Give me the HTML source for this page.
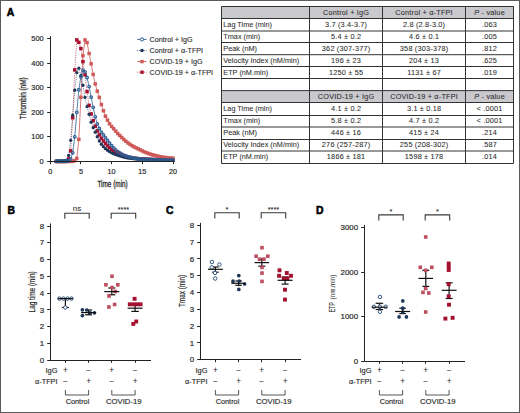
<!DOCTYPE html>
<html><head><meta charset="utf-8"><title>Figure</title>
<style>html,body{margin:0;padding:0;background:#fff;}body{width:520px;height:413px;overflow:hidden;font-family:"Liberation Sans", sans-serif;}svg{display:block;}</style>
</head><body>
<svg width="520" height="413" viewBox="0 0 520 413" font-family='"Liberation Sans", sans-serif'>
<rect x="0" y="0" width="520" height="413" fill="#fff"/>
<style>text{stroke:currentColor;stroke-width:0.06px;paint-order:stroke;}</style>
<text x="6.80" y="15.50" font-size="10.4" text-anchor="start" fill="#000" color="#000" font-weight="bold" style="stroke-width:0.55px">A</text>
<polyline points="56.34,161.40 58.39,161.40 60.43,161.40 62.48,161.40 64.53,161.40 66.57,161.40 68.62,158.95 70.67,150.83 72.71,117.76 74.76,69.87 76.81,39.93 78.85,42.38 80.90,48.55 82.95,61.70 84.99,74.77 87.04,91.56 89.09,105.37 91.13,113.97 93.18,120.65 95.23,126.24 97.27,130.93 99.32,134.85 101.37,138.20 103.41,141.04 105.46,143.56 107.51,145.83 109.55,147.74 111.60,149.26 113.65,150.58 115.69,151.74 117.74,152.81 119.79,153.86 121.83,154.88 123.88,155.80 125.93,156.55 127.97,157.07 130.02,157.47 132.07,157.82 134.11,158.14 136.16,158.41 138.21,158.63 140.25,158.81 142.30,158.95 144.35,159.06 146.39,159.16 148.44,159.27 150.49,159.36 152.53,159.45 154.58,159.54 156.63,159.61 158.67,159.68 160.72,159.75 162.77,159.80 164.81,159.84 166.86,159.88 168.91,159.91 170.95,159.92 173.00,159.93" fill="none" stroke="#a8102e" stroke-width="0.8" stroke-dasharray="0.7 1.1"/>
<polyline points="56.34,161.40 58.39,161.40 60.43,161.40 62.48,161.40 64.53,161.40 66.57,161.40 68.62,161.40 70.67,161.40 72.71,161.40 74.76,160.66 76.81,158.45 78.85,139.34 80.90,97.35 82.95,55.69 84.99,39.96 87.04,42.57 89.09,53.48 91.13,63.80 93.18,74.42 95.23,83.93 97.27,91.14 99.32,97.40 101.37,104.53 103.41,110.76 105.46,116.17 107.51,120.12 109.55,123.81 111.60,126.45 113.65,128.70 115.69,131.15 117.74,133.51 119.79,135.56 121.83,137.54 123.88,139.51 125.93,141.33 127.97,142.93 130.02,144.39 132.07,145.72 134.11,146.90 136.16,147.89 138.21,148.86 140.25,149.88 142.30,150.92 144.35,151.88 146.39,152.72 148.44,153.47 150.49,154.16 152.53,154.79 154.58,155.36 156.63,155.86 158.67,156.33 160.72,156.76 162.77,157.13 164.81,157.45 166.86,157.70 168.91,157.93 170.95,158.11 173.00,158.24" fill="none" stroke="#cf5858" stroke-width="0.8"/>
<polyline points="56.34,161.40 58.39,161.40 60.43,161.40 62.48,161.40 64.53,161.40 66.57,160.17 68.62,155.51 70.67,140.28 72.71,115.04 74.76,90.23 76.81,72.56 78.85,68.15 80.90,75.51 82.95,85.27 84.99,97.32 87.04,106.71 89.09,114.33 91.13,122.18 93.18,127.66 95.23,132.22 97.27,136.76 99.32,140.98 101.37,144.26 103.41,146.70 105.46,148.64 107.51,150.26 109.55,151.66 111.60,152.81 113.65,153.75 115.69,154.56 117.74,155.27 119.79,155.94 121.83,156.59 123.88,157.18 125.93,157.67 127.97,158.02 130.02,158.30 132.07,158.54 134.11,158.74 136.16,158.92 138.21,159.08 140.25,159.22 142.30,159.35 144.35,159.48 146.39,159.60 148.44,159.71 150.49,159.80 152.53,159.87 154.58,159.93 156.63,159.97 158.67,160.01 160.72,160.05 162.77,160.08 164.81,160.11 166.86,160.14 168.91,160.16 170.95,160.17 173.00,160.17" fill="none" stroke="#1d3659" stroke-width="0.8" stroke-dasharray="0.7 1.1"/>
<polyline points="56.34,161.40 58.39,161.39 60.43,161.36 62.48,161.31 64.53,161.22 66.57,161.09 68.62,160.91 70.67,158.94 72.71,152.82 74.76,136.86 76.81,112.30 78.85,89.76 80.90,76.74 82.95,70.14 84.99,71.95 87.04,77.51 89.09,86.57 91.13,97.15 93.18,107.33 95.23,116.84 97.27,123.81 99.32,128.54 101.37,132.11 103.41,134.94 105.46,137.60 107.51,140.43 109.55,143.20 111.60,145.69 113.65,147.93 115.69,149.95 117.74,151.58 119.79,152.90 121.83,154.08 123.88,155.10 125.93,155.95 127.97,156.61 130.02,157.17 132.07,157.68 134.11,158.12 136.16,158.49 138.21,158.78 140.25,158.98 142.30,159.13 144.35,159.25 146.39,159.36 148.44,159.45 150.49,159.54 152.53,159.61 154.58,159.68 156.63,159.75 158.67,159.82 160.72,159.89 162.77,159.95 164.81,160.00 166.86,160.06 168.91,160.10 170.95,160.14 173.00,160.17" fill="none" stroke="#2f5f94" stroke-width="0.8"/>
<rect x="54.59" y="159.65" width="3.50" height="3.50" fill="#a8102e"/>
<rect x="56.64" y="159.65" width="3.50" height="3.50" fill="#a8102e"/>
<rect x="58.68" y="159.65" width="3.50" height="3.50" fill="#a8102e"/>
<rect x="60.73" y="159.65" width="3.50" height="3.50" fill="#a8102e"/>
<rect x="62.78" y="159.65" width="3.50" height="3.50" fill="#a8102e"/>
<rect x="64.82" y="159.65" width="3.50" height="3.50" fill="#a8102e"/>
<rect x="66.87" y="157.20" width="3.50" height="3.50" fill="#a8102e"/>
<rect x="68.92" y="149.08" width="3.50" height="3.50" fill="#a8102e"/>
<rect x="70.96" y="116.01" width="3.50" height="3.50" fill="#a8102e"/>
<rect x="73.01" y="68.12" width="3.50" height="3.50" fill="#a8102e"/>
<rect x="75.06" y="38.18" width="3.50" height="3.50" fill="#a8102e"/>
<rect x="77.10" y="40.63" width="3.50" height="3.50" fill="#a8102e"/>
<rect x="79.15" y="46.80" width="3.50" height="3.50" fill="#a8102e"/>
<rect x="81.20" y="59.95" width="3.50" height="3.50" fill="#a8102e"/>
<rect x="83.24" y="73.02" width="3.50" height="3.50" fill="#a8102e"/>
<rect x="85.29" y="89.81" width="3.50" height="3.50" fill="#a8102e"/>
<rect x="87.34" y="103.62" width="3.50" height="3.50" fill="#a8102e"/>
<rect x="89.38" y="112.22" width="3.50" height="3.50" fill="#a8102e"/>
<rect x="91.43" y="118.90" width="3.50" height="3.50" fill="#a8102e"/>
<rect x="93.48" y="124.49" width="3.50" height="3.50" fill="#a8102e"/>
<rect x="95.52" y="129.18" width="3.50" height="3.50" fill="#a8102e"/>
<rect x="97.57" y="133.10" width="3.50" height="3.50" fill="#a8102e"/>
<rect x="99.62" y="136.45" width="3.50" height="3.50" fill="#a8102e"/>
<rect x="101.66" y="139.29" width="3.50" height="3.50" fill="#a8102e"/>
<rect x="103.71" y="141.81" width="3.50" height="3.50" fill="#a8102e"/>
<rect x="105.76" y="144.08" width="3.50" height="3.50" fill="#a8102e"/>
<rect x="107.80" y="145.99" width="3.50" height="3.50" fill="#a8102e"/>
<rect x="109.85" y="147.51" width="3.50" height="3.50" fill="#a8102e"/>
<rect x="111.90" y="148.83" width="3.50" height="3.50" fill="#a8102e"/>
<rect x="113.94" y="149.99" width="3.50" height="3.50" fill="#a8102e"/>
<rect x="115.99" y="151.06" width="3.50" height="3.50" fill="#a8102e"/>
<rect x="118.04" y="152.11" width="3.50" height="3.50" fill="#a8102e"/>
<rect x="120.08" y="153.13" width="3.50" height="3.50" fill="#a8102e"/>
<rect x="122.13" y="154.05" width="3.50" height="3.50" fill="#a8102e"/>
<rect x="124.18" y="154.80" width="3.50" height="3.50" fill="#a8102e"/>
<rect x="126.22" y="155.32" width="3.50" height="3.50" fill="#a8102e"/>
<rect x="128.27" y="155.72" width="3.50" height="3.50" fill="#a8102e"/>
<rect x="130.32" y="156.07" width="3.50" height="3.50" fill="#a8102e"/>
<rect x="132.36" y="156.39" width="3.50" height="3.50" fill="#a8102e"/>
<rect x="134.41" y="156.66" width="3.50" height="3.50" fill="#a8102e"/>
<rect x="136.46" y="156.88" width="3.50" height="3.50" fill="#a8102e"/>
<rect x="138.50" y="157.06" width="3.50" height="3.50" fill="#a8102e"/>
<rect x="140.55" y="157.20" width="3.50" height="3.50" fill="#a8102e"/>
<rect x="142.60" y="157.31" width="3.50" height="3.50" fill="#a8102e"/>
<rect x="144.64" y="157.41" width="3.50" height="3.50" fill="#a8102e"/>
<rect x="146.69" y="157.52" width="3.50" height="3.50" fill="#a8102e"/>
<rect x="148.74" y="157.61" width="3.50" height="3.50" fill="#a8102e"/>
<rect x="150.78" y="157.70" width="3.50" height="3.50" fill="#a8102e"/>
<rect x="152.83" y="157.79" width="3.50" height="3.50" fill="#a8102e"/>
<rect x="154.88" y="157.86" width="3.50" height="3.50" fill="#a8102e"/>
<rect x="156.92" y="157.93" width="3.50" height="3.50" fill="#a8102e"/>
<rect x="158.97" y="158.00" width="3.50" height="3.50" fill="#a8102e"/>
<rect x="161.02" y="158.05" width="3.50" height="3.50" fill="#a8102e"/>
<rect x="163.06" y="158.09" width="3.50" height="3.50" fill="#a8102e"/>
<rect x="165.11" y="158.13" width="3.50" height="3.50" fill="#a8102e"/>
<rect x="167.16" y="158.16" width="3.50" height="3.50" fill="#a8102e"/>
<rect x="169.20" y="158.17" width="3.50" height="3.50" fill="#a8102e"/>
<rect x="171.25" y="158.18" width="3.50" height="3.50" fill="#a8102e"/>
<rect x="54.59" y="159.65" width="3.50" height="3.50" fill="#cf5858"/>
<rect x="56.64" y="159.65" width="3.50" height="3.50" fill="#cf5858"/>
<rect x="58.68" y="159.65" width="3.50" height="3.50" fill="#cf5858"/>
<rect x="60.73" y="159.65" width="3.50" height="3.50" fill="#cf5858"/>
<rect x="62.78" y="159.65" width="3.50" height="3.50" fill="#cf5858"/>
<rect x="64.82" y="159.65" width="3.50" height="3.50" fill="#cf5858"/>
<rect x="66.87" y="159.65" width="3.50" height="3.50" fill="#cf5858"/>
<rect x="68.92" y="159.65" width="3.50" height="3.50" fill="#cf5858"/>
<rect x="70.96" y="159.65" width="3.50" height="3.50" fill="#cf5858"/>
<rect x="73.01" y="158.91" width="3.50" height="3.50" fill="#cf5858"/>
<rect x="75.06" y="156.70" width="3.50" height="3.50" fill="#cf5858"/>
<rect x="77.10" y="137.59" width="3.50" height="3.50" fill="#cf5858"/>
<rect x="79.15" y="95.60" width="3.50" height="3.50" fill="#cf5858"/>
<rect x="81.20" y="53.94" width="3.50" height="3.50" fill="#cf5858"/>
<rect x="83.24" y="38.21" width="3.50" height="3.50" fill="#cf5858"/>
<rect x="85.29" y="40.82" width="3.50" height="3.50" fill="#cf5858"/>
<rect x="87.34" y="51.73" width="3.50" height="3.50" fill="#cf5858"/>
<rect x="89.38" y="62.05" width="3.50" height="3.50" fill="#cf5858"/>
<rect x="91.43" y="72.67" width="3.50" height="3.50" fill="#cf5858"/>
<rect x="93.48" y="82.18" width="3.50" height="3.50" fill="#cf5858"/>
<rect x="95.52" y="89.39" width="3.50" height="3.50" fill="#cf5858"/>
<rect x="97.57" y="95.65" width="3.50" height="3.50" fill="#cf5858"/>
<rect x="99.62" y="102.78" width="3.50" height="3.50" fill="#cf5858"/>
<rect x="101.66" y="109.01" width="3.50" height="3.50" fill="#cf5858"/>
<rect x="103.71" y="114.42" width="3.50" height="3.50" fill="#cf5858"/>
<rect x="105.76" y="118.37" width="3.50" height="3.50" fill="#cf5858"/>
<rect x="107.80" y="122.06" width="3.50" height="3.50" fill="#cf5858"/>
<rect x="109.85" y="124.70" width="3.50" height="3.50" fill="#cf5858"/>
<rect x="111.90" y="126.95" width="3.50" height="3.50" fill="#cf5858"/>
<rect x="113.94" y="129.40" width="3.50" height="3.50" fill="#cf5858"/>
<rect x="115.99" y="131.76" width="3.50" height="3.50" fill="#cf5858"/>
<rect x="118.04" y="133.81" width="3.50" height="3.50" fill="#cf5858"/>
<rect x="120.08" y="135.79" width="3.50" height="3.50" fill="#cf5858"/>
<rect x="122.13" y="137.76" width="3.50" height="3.50" fill="#cf5858"/>
<rect x="124.18" y="139.58" width="3.50" height="3.50" fill="#cf5858"/>
<rect x="126.22" y="141.18" width="3.50" height="3.50" fill="#cf5858"/>
<rect x="128.27" y="142.64" width="3.50" height="3.50" fill="#cf5858"/>
<rect x="130.32" y="143.97" width="3.50" height="3.50" fill="#cf5858"/>
<rect x="132.36" y="145.15" width="3.50" height="3.50" fill="#cf5858"/>
<rect x="134.41" y="146.14" width="3.50" height="3.50" fill="#cf5858"/>
<rect x="136.46" y="147.11" width="3.50" height="3.50" fill="#cf5858"/>
<rect x="138.50" y="148.13" width="3.50" height="3.50" fill="#cf5858"/>
<rect x="140.55" y="149.17" width="3.50" height="3.50" fill="#cf5858"/>
<rect x="142.60" y="150.13" width="3.50" height="3.50" fill="#cf5858"/>
<rect x="144.64" y="150.97" width="3.50" height="3.50" fill="#cf5858"/>
<rect x="146.69" y="151.72" width="3.50" height="3.50" fill="#cf5858"/>
<rect x="148.74" y="152.41" width="3.50" height="3.50" fill="#cf5858"/>
<rect x="150.78" y="153.04" width="3.50" height="3.50" fill="#cf5858"/>
<rect x="152.83" y="153.61" width="3.50" height="3.50" fill="#cf5858"/>
<rect x="154.88" y="154.11" width="3.50" height="3.50" fill="#cf5858"/>
<rect x="156.92" y="154.58" width="3.50" height="3.50" fill="#cf5858"/>
<rect x="158.97" y="155.01" width="3.50" height="3.50" fill="#cf5858"/>
<rect x="161.02" y="155.38" width="3.50" height="3.50" fill="#cf5858"/>
<rect x="163.06" y="155.70" width="3.50" height="3.50" fill="#cf5858"/>
<rect x="165.11" y="155.95" width="3.50" height="3.50" fill="#cf5858"/>
<rect x="167.16" y="156.18" width="3.50" height="3.50" fill="#cf5858"/>
<rect x="169.20" y="156.36" width="3.50" height="3.50" fill="#cf5858"/>
<rect x="171.25" y="156.49" width="3.50" height="3.50" fill="#cf5858"/>
<circle cx="56.34" cy="161.40" r="1.65" fill="#1d3659"/>
<circle cx="58.39" cy="161.40" r="1.65" fill="#1d3659"/>
<circle cx="60.43" cy="161.40" r="1.65" fill="#1d3659"/>
<circle cx="62.48" cy="161.40" r="1.65" fill="#1d3659"/>
<circle cx="64.53" cy="161.40" r="1.65" fill="#1d3659"/>
<circle cx="66.57" cy="160.17" r="1.65" fill="#1d3659"/>
<circle cx="68.62" cy="155.51" r="1.65" fill="#1d3659"/>
<circle cx="70.67" cy="140.28" r="1.65" fill="#1d3659"/>
<circle cx="72.71" cy="115.04" r="1.65" fill="#1d3659"/>
<circle cx="74.76" cy="90.23" r="1.65" fill="#1d3659"/>
<circle cx="76.81" cy="72.56" r="1.65" fill="#1d3659"/>
<circle cx="78.85" cy="68.15" r="1.65" fill="#1d3659"/>
<circle cx="80.90" cy="75.51" r="1.65" fill="#1d3659"/>
<circle cx="82.95" cy="85.27" r="1.65" fill="#1d3659"/>
<circle cx="84.99" cy="97.32" r="1.65" fill="#1d3659"/>
<circle cx="87.04" cy="106.71" r="1.65" fill="#1d3659"/>
<circle cx="89.09" cy="114.33" r="1.65" fill="#1d3659"/>
<circle cx="91.13" cy="122.18" r="1.65" fill="#1d3659"/>
<circle cx="93.18" cy="127.66" r="1.65" fill="#1d3659"/>
<circle cx="95.23" cy="132.22" r="1.65" fill="#1d3659"/>
<circle cx="97.27" cy="136.76" r="1.65" fill="#1d3659"/>
<circle cx="99.32" cy="140.98" r="1.65" fill="#1d3659"/>
<circle cx="101.37" cy="144.26" r="1.65" fill="#1d3659"/>
<circle cx="103.41" cy="146.70" r="1.65" fill="#1d3659"/>
<circle cx="105.46" cy="148.64" r="1.65" fill="#1d3659"/>
<circle cx="107.51" cy="150.26" r="1.65" fill="#1d3659"/>
<circle cx="109.55" cy="151.66" r="1.65" fill="#1d3659"/>
<circle cx="111.60" cy="152.81" r="1.65" fill="#1d3659"/>
<circle cx="113.65" cy="153.75" r="1.65" fill="#1d3659"/>
<circle cx="115.69" cy="154.56" r="1.65" fill="#1d3659"/>
<circle cx="117.74" cy="155.27" r="1.65" fill="#1d3659"/>
<circle cx="119.79" cy="155.94" r="1.65" fill="#1d3659"/>
<circle cx="121.83" cy="156.59" r="1.65" fill="#1d3659"/>
<circle cx="123.88" cy="157.18" r="1.65" fill="#1d3659"/>
<circle cx="125.93" cy="157.67" r="1.65" fill="#1d3659"/>
<circle cx="127.97" cy="158.02" r="1.65" fill="#1d3659"/>
<circle cx="130.02" cy="158.30" r="1.65" fill="#1d3659"/>
<circle cx="132.07" cy="158.54" r="1.65" fill="#1d3659"/>
<circle cx="134.11" cy="158.74" r="1.65" fill="#1d3659"/>
<circle cx="136.16" cy="158.92" r="1.65" fill="#1d3659"/>
<circle cx="138.21" cy="159.08" r="1.65" fill="#1d3659"/>
<circle cx="140.25" cy="159.22" r="1.65" fill="#1d3659"/>
<circle cx="142.30" cy="159.35" r="1.65" fill="#1d3659"/>
<circle cx="144.35" cy="159.48" r="1.65" fill="#1d3659"/>
<circle cx="146.39" cy="159.60" r="1.65" fill="#1d3659"/>
<circle cx="148.44" cy="159.71" r="1.65" fill="#1d3659"/>
<circle cx="150.49" cy="159.80" r="1.65" fill="#1d3659"/>
<circle cx="152.53" cy="159.87" r="1.65" fill="#1d3659"/>
<circle cx="154.58" cy="159.93" r="1.65" fill="#1d3659"/>
<circle cx="156.63" cy="159.97" r="1.65" fill="#1d3659"/>
<circle cx="158.67" cy="160.01" r="1.65" fill="#1d3659"/>
<circle cx="160.72" cy="160.05" r="1.65" fill="#1d3659"/>
<circle cx="162.77" cy="160.08" r="1.65" fill="#1d3659"/>
<circle cx="164.81" cy="160.11" r="1.65" fill="#1d3659"/>
<circle cx="166.86" cy="160.14" r="1.65" fill="#1d3659"/>
<circle cx="168.91" cy="160.16" r="1.65" fill="#1d3659"/>
<circle cx="170.95" cy="160.17" r="1.65" fill="#1d3659"/>
<circle cx="173.00" cy="160.17" r="1.65" fill="#1d3659"/>
<circle cx="56.34" cy="161.40" r="1.35" fill="none" stroke="#2f5f94" stroke-width="1.15"/>
<circle cx="58.39" cy="161.39" r="1.35" fill="none" stroke="#2f5f94" stroke-width="1.15"/>
<circle cx="60.43" cy="161.36" r="1.35" fill="none" stroke="#2f5f94" stroke-width="1.15"/>
<circle cx="62.48" cy="161.31" r="1.35" fill="none" stroke="#2f5f94" stroke-width="1.15"/>
<circle cx="64.53" cy="161.22" r="1.35" fill="none" stroke="#2f5f94" stroke-width="1.15"/>
<circle cx="66.57" cy="161.09" r="1.35" fill="none" stroke="#2f5f94" stroke-width="1.15"/>
<circle cx="68.62" cy="160.91" r="1.35" fill="none" stroke="#2f5f94" stroke-width="1.15"/>
<circle cx="70.67" cy="158.94" r="1.35" fill="none" stroke="#2f5f94" stroke-width="1.15"/>
<circle cx="72.71" cy="152.82" r="1.35" fill="none" stroke="#2f5f94" stroke-width="1.15"/>
<circle cx="74.76" cy="136.86" r="1.35" fill="none" stroke="#2f5f94" stroke-width="1.15"/>
<circle cx="76.81" cy="112.30" r="1.35" fill="none" stroke="#2f5f94" stroke-width="1.15"/>
<circle cx="78.85" cy="89.76" r="1.35" fill="none" stroke="#2f5f94" stroke-width="1.15"/>
<circle cx="80.90" cy="76.74" r="1.35" fill="none" stroke="#2f5f94" stroke-width="1.15"/>
<circle cx="82.95" cy="70.14" r="1.35" fill="none" stroke="#2f5f94" stroke-width="1.15"/>
<circle cx="84.99" cy="71.95" r="1.35" fill="none" stroke="#2f5f94" stroke-width="1.15"/>
<circle cx="87.04" cy="77.51" r="1.35" fill="none" stroke="#2f5f94" stroke-width="1.15"/>
<circle cx="89.09" cy="86.57" r="1.35" fill="none" stroke="#2f5f94" stroke-width="1.15"/>
<circle cx="91.13" cy="97.15" r="1.35" fill="none" stroke="#2f5f94" stroke-width="1.15"/>
<circle cx="93.18" cy="107.33" r="1.35" fill="none" stroke="#2f5f94" stroke-width="1.15"/>
<circle cx="95.23" cy="116.84" r="1.35" fill="none" stroke="#2f5f94" stroke-width="1.15"/>
<circle cx="97.27" cy="123.81" r="1.35" fill="none" stroke="#2f5f94" stroke-width="1.15"/>
<circle cx="99.32" cy="128.54" r="1.35" fill="none" stroke="#2f5f94" stroke-width="1.15"/>
<circle cx="101.37" cy="132.11" r="1.35" fill="none" stroke="#2f5f94" stroke-width="1.15"/>
<circle cx="103.41" cy="134.94" r="1.35" fill="none" stroke="#2f5f94" stroke-width="1.15"/>
<circle cx="105.46" cy="137.60" r="1.35" fill="none" stroke="#2f5f94" stroke-width="1.15"/>
<circle cx="107.51" cy="140.43" r="1.35" fill="none" stroke="#2f5f94" stroke-width="1.15"/>
<circle cx="109.55" cy="143.20" r="1.35" fill="none" stroke="#2f5f94" stroke-width="1.15"/>
<circle cx="111.60" cy="145.69" r="1.35" fill="none" stroke="#2f5f94" stroke-width="1.15"/>
<circle cx="113.65" cy="147.93" r="1.35" fill="none" stroke="#2f5f94" stroke-width="1.15"/>
<circle cx="115.69" cy="149.95" r="1.35" fill="none" stroke="#2f5f94" stroke-width="1.15"/>
<circle cx="117.74" cy="151.58" r="1.35" fill="none" stroke="#2f5f94" stroke-width="1.15"/>
<circle cx="119.79" cy="152.90" r="1.35" fill="none" stroke="#2f5f94" stroke-width="1.15"/>
<circle cx="121.83" cy="154.08" r="1.35" fill="none" stroke="#2f5f94" stroke-width="1.15"/>
<circle cx="123.88" cy="155.10" r="1.35" fill="none" stroke="#2f5f94" stroke-width="1.15"/>
<circle cx="125.93" cy="155.95" r="1.35" fill="none" stroke="#2f5f94" stroke-width="1.15"/>
<circle cx="127.97" cy="156.61" r="1.35" fill="none" stroke="#2f5f94" stroke-width="1.15"/>
<circle cx="130.02" cy="157.17" r="1.35" fill="none" stroke="#2f5f94" stroke-width="1.15"/>
<circle cx="132.07" cy="157.68" r="1.35" fill="none" stroke="#2f5f94" stroke-width="1.15"/>
<circle cx="134.11" cy="158.12" r="1.35" fill="none" stroke="#2f5f94" stroke-width="1.15"/>
<circle cx="136.16" cy="158.49" r="1.35" fill="none" stroke="#2f5f94" stroke-width="1.15"/>
<circle cx="138.21" cy="158.78" r="1.35" fill="none" stroke="#2f5f94" stroke-width="1.15"/>
<circle cx="140.25" cy="158.98" r="1.35" fill="none" stroke="#2f5f94" stroke-width="1.15"/>
<circle cx="142.30" cy="159.13" r="1.35" fill="none" stroke="#2f5f94" stroke-width="1.15"/>
<circle cx="144.35" cy="159.25" r="1.35" fill="none" stroke="#2f5f94" stroke-width="1.15"/>
<circle cx="146.39" cy="159.36" r="1.35" fill="none" stroke="#2f5f94" stroke-width="1.15"/>
<circle cx="148.44" cy="159.45" r="1.35" fill="none" stroke="#2f5f94" stroke-width="1.15"/>
<circle cx="150.49" cy="159.54" r="1.35" fill="none" stroke="#2f5f94" stroke-width="1.15"/>
<circle cx="152.53" cy="159.61" r="1.35" fill="none" stroke="#2f5f94" stroke-width="1.15"/>
<circle cx="154.58" cy="159.68" r="1.35" fill="none" stroke="#2f5f94" stroke-width="1.15"/>
<circle cx="156.63" cy="159.75" r="1.35" fill="none" stroke="#2f5f94" stroke-width="1.15"/>
<circle cx="158.67" cy="159.82" r="1.35" fill="none" stroke="#2f5f94" stroke-width="1.15"/>
<circle cx="160.72" cy="159.89" r="1.35" fill="none" stroke="#2f5f94" stroke-width="1.15"/>
<circle cx="162.77" cy="159.95" r="1.35" fill="none" stroke="#2f5f94" stroke-width="1.15"/>
<circle cx="164.81" cy="160.00" r="1.35" fill="none" stroke="#2f5f94" stroke-width="1.15"/>
<circle cx="166.86" cy="160.06" r="1.35" fill="none" stroke="#2f5f94" stroke-width="1.15"/>
<circle cx="168.91" cy="160.10" r="1.35" fill="none" stroke="#2f5f94" stroke-width="1.15"/>
<circle cx="170.95" cy="160.14" r="1.35" fill="none" stroke="#2f5f94" stroke-width="1.15"/>
<circle cx="173.00" cy="160.17" r="1.35" fill="none" stroke="#2f5f94" stroke-width="1.15"/>
<line x1="56.6" y1="160.9" x2="67.2" y2="160.9" stroke="#24578a" stroke-width="3.4" stroke-linecap="round"/>
<line x1="50.00" y1="161.50" x2="174.20" y2="161.50" stroke="#222" stroke-width="1"/>
<line x1="50.50" y1="36.20" x2="50.50" y2="162.00" stroke="#222" stroke-width="1"/>
<line x1="50.50" y1="161.50" x2="50.50" y2="164.20" stroke="#222" stroke-width="1"/>
<text x="50.20" y="173.80" font-size="7.2" text-anchor="middle" fill="#2b2b2b" color="#2b2b2b" font-weight="normal" style="stroke-width:0.2px">0</text>
<line x1="80.50" y1="161.50" x2="80.50" y2="164.20" stroke="#222" stroke-width="1"/>
<text x="80.90" y="173.80" font-size="7.2" text-anchor="middle" fill="#2b2b2b" color="#2b2b2b" font-weight="normal" style="stroke-width:0.2px">5</text>
<line x1="111.50" y1="161.50" x2="111.50" y2="164.20" stroke="#222" stroke-width="1"/>
<text x="111.60" y="173.80" font-size="7.2" text-anchor="middle" fill="#2b2b2b" color="#2b2b2b" font-weight="normal" style="stroke-width:0.2px">10</text>
<line x1="142.50" y1="161.50" x2="142.50" y2="164.20" stroke="#222" stroke-width="1"/>
<text x="142.30" y="173.80" font-size="7.2" text-anchor="middle" fill="#2b2b2b" color="#2b2b2b" font-weight="normal" style="stroke-width:0.2px">15</text>
<line x1="173.50" y1="161.50" x2="173.50" y2="164.20" stroke="#222" stroke-width="1"/>
<text x="173.00" y="173.80" font-size="7.2" text-anchor="middle" fill="#2b2b2b" color="#2b2b2b" font-weight="normal" style="stroke-width:0.2px">20</text>
<line x1="47.20" y1="161.50" x2="50.50" y2="161.50" stroke="#222" stroke-width="1"/>
<text x="43.70" y="163.75" font-size="7.4" text-anchor="end" fill="#2b2b2b" color="#2b2b2b" font-weight="normal" style="stroke-width:0.2px">0</text>
<line x1="47.20" y1="136.50" x2="50.50" y2="136.50" stroke="#222" stroke-width="1"/>
<text x="43.70" y="139.21" font-size="7.4" text-anchor="end" fill="#2b2b2b" color="#2b2b2b" font-weight="normal" style="stroke-width:0.2px">100</text>
<line x1="47.20" y1="112.50" x2="50.50" y2="112.50" stroke="#222" stroke-width="1"/>
<text x="43.70" y="114.67" font-size="7.4" text-anchor="end" fill="#2b2b2b" color="#2b2b2b" font-weight="normal" style="stroke-width:0.2px">200</text>
<line x1="47.20" y1="87.50" x2="50.50" y2="87.50" stroke="#222" stroke-width="1"/>
<text x="43.70" y="90.13" font-size="7.4" text-anchor="end" fill="#2b2b2b" color="#2b2b2b" font-weight="normal" style="stroke-width:0.2px">300</text>
<line x1="47.20" y1="63.50" x2="50.50" y2="63.50" stroke="#222" stroke-width="1"/>
<text x="43.70" y="65.59" font-size="7.4" text-anchor="end" fill="#2b2b2b" color="#2b2b2b" font-weight="normal" style="stroke-width:0.2px">400</text>
<line x1="47.20" y1="38.50" x2="50.50" y2="38.50" stroke="#222" stroke-width="1"/>
<text x="43.70" y="41.05" font-size="7.4" text-anchor="end" fill="#2b2b2b" color="#2b2b2b" font-weight="normal" style="stroke-width:0.2px">500</text>
<text x="112.60" y="186.50" font-size="8.8" text-anchor="middle" fill="#2b2b2b" color="#2b2b2b" font-weight="normal" textLength="30.3" lengthAdjust="spacingAndGlyphs" style="stroke-width:0.3px">Time (min)</text>
<text transform="translate(25.9,98.3) rotate(-90)" x="0" y="0" font-size="8.8" text-anchor="middle" fill="#2b2b2b" color="#2b2b2b" textLength="41.7" lengthAdjust="spacingAndGlyphs" style="stroke-width:0.3px">Thrombin (nM)</text>
<line x1="137.2" y1="39.4" x2="146.6" y2="39.4" stroke="#2f5f94" stroke-width="0.9"/>
<circle cx="142" cy="39.4" r="1.65" fill="#fff" stroke="#2f5f94" stroke-width="1.0"/>
<text x="149.60" y="42.00" font-size="7.2" text-anchor="start" fill="#2b2b2b" color="#2b2b2b" font-weight="normal" style="stroke-width:0.12px">Control + IgG</text>
<line x1="137.2" y1="50.5" x2="146.6" y2="50.5" stroke="#1d3659" stroke-width="0.9" stroke-dasharray="0.7 1.1"/>
<circle cx="142" cy="50.5" r="1.8" fill="#1d3659"/>
<text x="149.60" y="53.10" font-size="7.2" text-anchor="start" fill="#2b2b2b" color="#2b2b2b" font-weight="normal" style="stroke-width:0.12px">Control + &#945;-TFPI</text>
<line x1="137.2" y1="61.6" x2="146.6" y2="61.6" stroke="#cf5858" stroke-width="0.9"/>
<rect x="140.3" y="59.9" width="3.4" height="3.4" fill="#cf5858"/>
<text x="149.60" y="64.20" font-size="7.2" text-anchor="start" fill="#2b2b2b" color="#2b2b2b" font-weight="normal" style="stroke-width:0.12px">COVID-19 + IgG</text>
<line x1="137.2" y1="72.2" x2="146.6" y2="72.2" stroke="#a8102e" stroke-width="0.9" stroke-dasharray="0.7 1.1"/>
<rect x="140.3" y="70.5" width="3.4" height="3.4" fill="#a8102e"/>
<text x="149.60" y="74.80" font-size="7.2" text-anchor="start" fill="#2b2b2b" color="#2b2b2b" font-weight="normal" style="stroke-width:0.12px">COVID-19 + &#945;-TFPI</text>
<rect x="221.5" y="6.5" width="292.0" height="12.0" fill="#c9c8cd"/>
<rect x="221.5" y="90.6" width="292.0" height="11.900000000000006" fill="#c9c8cd"/>
<line x1="221.50" y1="6.50" x2="513.50" y2="6.50" stroke="#333" stroke-width="1"/>
<line x1="221.50" y1="18.50" x2="513.50" y2="18.50" stroke="#333" stroke-width="1"/>
<line x1="221.50" y1="31.00" x2="513.50" y2="31.00" stroke="#333" stroke-width="1"/>
<line x1="221.50" y1="42.50" x2="513.50" y2="42.50" stroke="#333" stroke-width="1"/>
<line x1="221.50" y1="54.70" x2="513.50" y2="54.70" stroke="#333" stroke-width="1"/>
<line x1="221.50" y1="66.50" x2="513.50" y2="66.50" stroke="#333" stroke-width="1"/>
<line x1="221.50" y1="78.50" x2="513.50" y2="78.50" stroke="#333" stroke-width="1"/>
<line x1="221.50" y1="90.60" x2="513.50" y2="90.60" stroke="#333" stroke-width="1"/>
<line x1="221.50" y1="102.50" x2="513.50" y2="102.50" stroke="#333" stroke-width="1"/>
<line x1="221.50" y1="115.50" x2="513.50" y2="115.50" stroke="#333" stroke-width="1"/>
<line x1="221.50" y1="127.00" x2="513.50" y2="127.00" stroke="#333" stroke-width="1"/>
<line x1="221.50" y1="139.50" x2="513.50" y2="139.50" stroke="#333" stroke-width="1"/>
<line x1="221.50" y1="151.00" x2="513.50" y2="151.00" stroke="#333" stroke-width="1"/>
<line x1="221.50" y1="163.50" x2="513.50" y2="163.50" stroke="#333" stroke-width="1"/>
<line x1="221.50" y1="6.50" x2="221.50" y2="163.50" stroke="#333" stroke-width="1"/>
<line x1="309.50" y1="6.50" x2="309.50" y2="163.50" stroke="#333" stroke-width="1"/>
<line x1="382.50" y1="6.50" x2="382.50" y2="163.50" stroke="#333" stroke-width="1"/>
<line x1="465.50" y1="6.50" x2="465.50" y2="163.50" stroke="#333" stroke-width="1"/>
<line x1="513.50" y1="6.50" x2="513.50" y2="163.50" stroke="#333" stroke-width="1"/>
<text x="346.10" y="14.60" font-size="7.3" text-anchor="middle" fill="#2b2b2b" color="#2b2b2b" font-weight="normal" letter-spacing="0.2">Control + IgG</text>
<text x="424.10" y="14.60" font-size="7.3" text-anchor="middle" fill="#2b2b2b" color="#2b2b2b" font-weight="normal" letter-spacing="0.2">Control + &#945;-TFPI</text>
<text x="489.60" y="14.60" font-size="7.3" text-anchor="middle" fill="#2b2b2b" color="#2b2b2b" font-weight="normal" letter-spacing="0.2"><tspan font-style="italic">P</tspan> - value</text>
<text x="223.30" y="26.85" font-size="7.3" text-anchor="start" fill="#2b2b2b" color="#2b2b2b" font-weight="normal">Lag Time (min)</text>
<text x="346.10" y="26.85" font-size="7.3" text-anchor="middle" fill="#2b2b2b" color="#2b2b2b" font-weight="normal" letter-spacing="0.2">3.7 (3.4-3.7)</text>
<text x="424.10" y="26.85" font-size="7.3" text-anchor="middle" fill="#2b2b2b" color="#2b2b2b" font-weight="normal" letter-spacing="0.2">2.8 (2.8-3.0)</text>
<text x="489.60" y="26.85" font-size="7.3" text-anchor="middle" fill="#2b2b2b" color="#2b2b2b" font-weight="normal" letter-spacing="0.2">.063</text>
<text x="223.30" y="38.85" font-size="7.3" text-anchor="start" fill="#2b2b2b" color="#2b2b2b" font-weight="normal">Tmax (min)</text>
<text x="346.10" y="38.85" font-size="7.3" text-anchor="middle" fill="#2b2b2b" color="#2b2b2b" font-weight="normal" letter-spacing="0.2">5.4 &#177; 0.2</text>
<text x="424.10" y="38.85" font-size="7.3" text-anchor="middle" fill="#2b2b2b" color="#2b2b2b" font-weight="normal" letter-spacing="0.2">4.6 &#177; 0.1</text>
<text x="489.60" y="38.85" font-size="7.3" text-anchor="middle" fill="#2b2b2b" color="#2b2b2b" font-weight="normal" letter-spacing="0.2">.005</text>
<text x="223.30" y="50.70" font-size="7.3" text-anchor="start" fill="#2b2b2b" color="#2b2b2b" font-weight="normal">Peak (nM)</text>
<text x="346.10" y="50.70" font-size="7.3" text-anchor="middle" fill="#2b2b2b" color="#2b2b2b" font-weight="normal" letter-spacing="0.2">362 (307-377)</text>
<text x="424.10" y="50.70" font-size="7.3" text-anchor="middle" fill="#2b2b2b" color="#2b2b2b" font-weight="normal" letter-spacing="0.2">358 (303-378)</text>
<text x="489.60" y="50.70" font-size="7.3" text-anchor="middle" fill="#2b2b2b" color="#2b2b2b" font-weight="normal" letter-spacing="0.2">.812</text>
<text x="223.30" y="62.70" font-size="7.3" text-anchor="start" fill="#2b2b2b" color="#2b2b2b" font-weight="normal">Velocity Index (nM/min)</text>
<text x="346.10" y="62.70" font-size="7.3" text-anchor="middle" fill="#2b2b2b" color="#2b2b2b" font-weight="normal" letter-spacing="0.2">196 &#177; 23</text>
<text x="424.10" y="62.70" font-size="7.3" text-anchor="middle" fill="#2b2b2b" color="#2b2b2b" font-weight="normal" letter-spacing="0.2">204 &#177; 13</text>
<text x="489.60" y="62.70" font-size="7.3" text-anchor="middle" fill="#2b2b2b" color="#2b2b2b" font-weight="normal" letter-spacing="0.2">.625</text>
<text x="223.30" y="74.60" font-size="7.3" text-anchor="start" fill="#2b2b2b" color="#2b2b2b" font-weight="normal">ETP (nM.min)</text>
<text x="346.10" y="74.60" font-size="7.3" text-anchor="middle" fill="#2b2b2b" color="#2b2b2b" font-weight="normal" letter-spacing="0.2">1250 &#177; 55</text>
<text x="424.10" y="74.60" font-size="7.3" text-anchor="middle" fill="#2b2b2b" color="#2b2b2b" font-weight="normal" letter-spacing="0.2">1131 &#177; 67</text>
<text x="489.60" y="74.60" font-size="7.3" text-anchor="middle" fill="#2b2b2b" color="#2b2b2b" font-weight="normal" letter-spacing="0.2">.019</text>
<text x="346.10" y="98.65" font-size="7.3" text-anchor="middle" fill="#2b2b2b" color="#2b2b2b" font-weight="normal" letter-spacing="0.2">COVID-19 + IgG</text>
<text x="424.10" y="98.65" font-size="7.3" text-anchor="middle" fill="#2b2b2b" color="#2b2b2b" font-weight="normal" letter-spacing="0.2">COVID-19 + &#945;-TFPI</text>
<text x="489.60" y="98.65" font-size="7.3" text-anchor="middle" fill="#2b2b2b" color="#2b2b2b" font-weight="normal" letter-spacing="0.2"><tspan font-style="italic">P</tspan> - value</text>
<text x="223.30" y="111.10" font-size="7.3" text-anchor="start" fill="#2b2b2b" color="#2b2b2b" font-weight="normal">Lag Time (min)</text>
<text x="346.10" y="111.10" font-size="7.3" text-anchor="middle" fill="#2b2b2b" color="#2b2b2b" font-weight="normal" letter-spacing="0.2">4.1 &#177; 0.2</text>
<text x="424.10" y="111.10" font-size="7.3" text-anchor="middle" fill="#2b2b2b" color="#2b2b2b" font-weight="normal" letter-spacing="0.2">3.1 &#177; 0.18</text>
<text x="489.60" y="111.10" font-size="7.3" text-anchor="middle" fill="#2b2b2b" color="#2b2b2b" font-weight="normal" letter-spacing="0.2">&lt; .0001</text>
<text x="223.30" y="123.35" font-size="7.3" text-anchor="start" fill="#2b2b2b" color="#2b2b2b" font-weight="normal">Tmax (min)</text>
<text x="346.10" y="123.35" font-size="7.3" text-anchor="middle" fill="#2b2b2b" color="#2b2b2b" font-weight="normal" letter-spacing="0.2">5.8 &#177; 0.2</text>
<text x="424.10" y="123.35" font-size="7.3" text-anchor="middle" fill="#2b2b2b" color="#2b2b2b" font-weight="normal" letter-spacing="0.2">4.7 &#177; 0.2</text>
<text x="489.60" y="123.35" font-size="7.3" text-anchor="middle" fill="#2b2b2b" color="#2b2b2b" font-weight="normal" letter-spacing="0.2">&lt; .0001</text>
<text x="223.30" y="135.35" font-size="7.3" text-anchor="start" fill="#2b2b2b" color="#2b2b2b" font-weight="normal">Peak (nM)</text>
<text x="346.10" y="135.35" font-size="7.3" text-anchor="middle" fill="#2b2b2b" color="#2b2b2b" font-weight="normal" letter-spacing="0.2">446 &#177; 16</text>
<text x="424.10" y="135.35" font-size="7.3" text-anchor="middle" fill="#2b2b2b" color="#2b2b2b" font-weight="normal" letter-spacing="0.2">415 &#177; 24</text>
<text x="489.60" y="135.35" font-size="7.3" text-anchor="middle" fill="#2b2b2b" color="#2b2b2b" font-weight="normal" letter-spacing="0.2">.214</text>
<text x="223.30" y="147.35" font-size="7.3" text-anchor="start" fill="#2b2b2b" color="#2b2b2b" font-weight="normal">Velocity Index (nM/min)</text>
<text x="346.10" y="147.35" font-size="7.3" text-anchor="middle" fill="#2b2b2b" color="#2b2b2b" font-weight="normal" letter-spacing="0.2">276 (257-287)</text>
<text x="424.10" y="147.35" font-size="7.3" text-anchor="middle" fill="#2b2b2b" color="#2b2b2b" font-weight="normal" letter-spacing="0.2">255 (208-302)</text>
<text x="489.60" y="147.35" font-size="7.3" text-anchor="middle" fill="#2b2b2b" color="#2b2b2b" font-weight="normal" letter-spacing="0.2">.587</text>
<text x="223.30" y="159.35" font-size="7.3" text-anchor="start" fill="#2b2b2b" color="#2b2b2b" font-weight="normal">ETP (nM.min)</text>
<text x="346.10" y="159.35" font-size="7.3" text-anchor="middle" fill="#2b2b2b" color="#2b2b2b" font-weight="normal" letter-spacing="0.2">1866 &#177; 181</text>
<text x="424.10" y="159.35" font-size="7.3" text-anchor="middle" fill="#2b2b2b" color="#2b2b2b" font-weight="normal" letter-spacing="0.2">1598 &#177; 178</text>
<text x="489.60" y="159.35" font-size="7.3" text-anchor="middle" fill="#2b2b2b" color="#2b2b2b" font-weight="normal" letter-spacing="0.2">.014</text>
<text x="7.50" y="213.50" font-size="10.4" text-anchor="start" fill="#000" color="#000" font-weight="bold" style="stroke-width:0.55px">B</text>
<line x1="50.50" y1="223.44" x2="50.50" y2="360.70" stroke="#222" stroke-width="1"/>
<line x1="50.50" y1="360.50" x2="151.00" y2="360.50" stroke="#222" stroke-width="1"/>
<line x1="47.20" y1="360.50" x2="50.50" y2="360.50" stroke="#222" stroke-width="1"/>
<text x="44.10" y="362.88" font-size="7.9" text-anchor="end" fill="#2b2b2b" color="#2b2b2b" font-weight="normal" style="stroke-width:0.2px">0</text>
<line x1="47.20" y1="343.50" x2="50.50" y2="343.50" stroke="#222" stroke-width="1"/>
<text x="44.10" y="346.11" font-size="7.9" text-anchor="end" fill="#2b2b2b" color="#2b2b2b" font-weight="normal" style="stroke-width:0.2px">1</text>
<line x1="47.20" y1="326.50" x2="50.50" y2="326.50" stroke="#222" stroke-width="1"/>
<text x="44.10" y="329.34" font-size="7.9" text-anchor="end" fill="#2b2b2b" color="#2b2b2b" font-weight="normal" style="stroke-width:0.2px">2</text>
<line x1="47.20" y1="309.50" x2="50.50" y2="309.50" stroke="#222" stroke-width="1"/>
<text x="44.10" y="312.57" font-size="7.9" text-anchor="end" fill="#2b2b2b" color="#2b2b2b" font-weight="normal" style="stroke-width:0.2px">3</text>
<line x1="47.20" y1="293.50" x2="50.50" y2="293.50" stroke="#222" stroke-width="1"/>
<text x="44.10" y="295.80" font-size="7.9" text-anchor="end" fill="#2b2b2b" color="#2b2b2b" font-weight="normal" style="stroke-width:0.2px">4</text>
<line x1="47.20" y1="276.50" x2="50.50" y2="276.50" stroke="#222" stroke-width="1"/>
<text x="44.10" y="279.03" font-size="7.9" text-anchor="end" fill="#2b2b2b" color="#2b2b2b" font-weight="normal" style="stroke-width:0.2px">5</text>
<line x1="47.20" y1="259.50" x2="50.50" y2="259.50" stroke="#222" stroke-width="1"/>
<text x="44.10" y="262.26" font-size="7.9" text-anchor="end" fill="#2b2b2b" color="#2b2b2b" font-weight="normal" style="stroke-width:0.2px">6</text>
<line x1="47.20" y1="242.50" x2="50.50" y2="242.50" stroke="#222" stroke-width="1"/>
<text x="44.10" y="245.49" font-size="7.9" text-anchor="end" fill="#2b2b2b" color="#2b2b2b" font-weight="normal" style="stroke-width:0.2px">7</text>
<line x1="47.20" y1="226.50" x2="50.50" y2="226.50" stroke="#222" stroke-width="1"/>
<text x="44.10" y="228.72" font-size="7.9" text-anchor="end" fill="#2b2b2b" color="#2b2b2b" font-weight="normal" style="stroke-width:0.2px">8</text>
<line x1="65.50" y1="360.20" x2="65.50" y2="362.80" stroke="#222" stroke-width="1"/>
<line x1="88.50" y1="360.20" x2="88.50" y2="362.80" stroke="#222" stroke-width="1"/>
<line x1="111.50" y1="360.20" x2="111.50" y2="362.80" stroke="#222" stroke-width="1"/>
<line x1="135.50" y1="360.20" x2="135.50" y2="362.80" stroke="#222" stroke-width="1"/>
<text transform="translate(34.6,291.9) rotate(-90)" x="0" y="0" font-size="8.9" text-anchor="middle" fill="#2b2b2b" color="#2b2b2b" textLength="41" lengthAdjust="spacingAndGlyphs" style="stroke-width:0.2px">Lag time (min)</text>
<text x="57.50" y="372.80" font-size="7.4" text-anchor="end" fill="#2b2b2b" color="#2b2b2b" font-weight="normal" textLength="12.0" lengthAdjust="spacingAndGlyphs" style="stroke-width:0.15px">IgG</text>
<text x="57.50" y="383.80" font-size="7.3" text-anchor="end" fill="#2b2b2b" color="#2b2b2b" font-weight="normal" style="stroke-width:0.15px">&#945;-TFPI</text>
<text x="65.40" y="373.30" font-size="8.3" text-anchor="middle" fill="#2b2b2b" color="#2b2b2b" font-weight="normal">+</text>
<text x="88.60" y="373.30" font-size="8.3" text-anchor="middle" fill="#2b2b2b" color="#2b2b2b" font-weight="normal">&#8722;</text>
<text x="111.80" y="373.30" font-size="8.3" text-anchor="middle" fill="#2b2b2b" color="#2b2b2b" font-weight="normal">+</text>
<text x="135.10" y="373.30" font-size="8.3" text-anchor="middle" fill="#2b2b2b" color="#2b2b2b" font-weight="normal">&#8722;</text>
<text x="65.40" y="384.30" font-size="8.3" text-anchor="middle" fill="#2b2b2b" color="#2b2b2b" font-weight="normal">&#8722;</text>
<text x="88.60" y="384.30" font-size="8.3" text-anchor="middle" fill="#2b2b2b" color="#2b2b2b" font-weight="normal">+</text>
<text x="111.80" y="384.30" font-size="8.3" text-anchor="middle" fill="#2b2b2b" color="#2b2b2b" font-weight="normal">&#8722;</text>
<text x="135.10" y="384.30" font-size="8.3" text-anchor="middle" fill="#2b2b2b" color="#2b2b2b" font-weight="normal">+</text>
<polyline points="65.40,390 65.40,395 88.60,395 88.60,390" fill="none" stroke="#444" stroke-width="0.9"/>
<polyline points="111.80,390 111.80,395 135.10,395 135.10,390" fill="none" stroke="#444" stroke-width="0.9"/>
<text x="77.50" y="404.20" font-size="7.3" text-anchor="middle" fill="#2b2b2b" color="#2b2b2b" font-weight="normal" style="stroke-width:0.15px">Control</text>
<text x="123.75" y="404.20" font-size="7.3" text-anchor="middle" fill="#2b2b2b" color="#2b2b2b" font-weight="normal" textLength="35.5" lengthAdjust="spacingAndGlyphs" style="stroke-width:0.15px">COVID-19</text>
<polyline points="64.80,218.80 64.80,213.20 89.20,213.20 89.20,218.80" fill="none" stroke="#3a3a3a" stroke-width="1.1"/>
<text x="77.00" y="210.80" font-size="8.0" text-anchor="middle" fill="#2b2b2b" color="#2b2b2b" font-weight="normal">ns</text>
<polyline points="111.20,218.80 111.20,213.20 135.70,213.20 135.70,218.80" fill="none" stroke="#3a3a3a" stroke-width="1.1"/>
<text x="123.45" y="212.30" font-size="7.4" text-anchor="middle" fill="#222" color="#222" font-weight="normal">****</text>
<line x1="65.40" y1="298.60" x2="65.40" y2="307.50" stroke="#111" stroke-width="1.2"/>
<line x1="61.90" y1="298.60" x2="68.90" y2="298.60" stroke="#111" stroke-width="1.2"/>
<line x1="61.90" y1="307.50" x2="68.90" y2="307.50" stroke="#111" stroke-width="1.2"/>
<circle cx="59.40" cy="298.60" r="1.75" fill="#fff" stroke="#34567c" stroke-width="1.0"/>
<circle cx="63.50" cy="298.60" r="1.75" fill="#fff" stroke="#34567c" stroke-width="1.0"/>
<circle cx="67.50" cy="298.60" r="1.75" fill="#fff" stroke="#34567c" stroke-width="1.0"/>
<circle cx="71.50" cy="298.60" r="1.75" fill="#fff" stroke="#34567c" stroke-width="1.0"/>
<circle cx="65.30" cy="307.50" r="1.75" fill="#fff" stroke="#34567c" stroke-width="1.0"/>
<line x1="57.90" y1="298.60" x2="72.90" y2="298.60" stroke="#111" stroke-width="1.2"/>
<line x1="88.60" y1="310.00" x2="88.60" y2="314.80" stroke="#111" stroke-width="1.2"/>
<line x1="85.10" y1="310.00" x2="92.10" y2="310.00" stroke="#111" stroke-width="1.2"/>
<line x1="85.10" y1="314.80" x2="92.10" y2="314.80" stroke="#111" stroke-width="1.2"/>
<circle cx="82.40" cy="309.80" r="1.85" fill="#1d3557"/>
<circle cx="86.80" cy="310.00" r="1.85" fill="#1d3557"/>
<circle cx="90.10" cy="312.80" r="1.85" fill="#1d3557"/>
<circle cx="94.40" cy="312.80" r="1.85" fill="#1d3557"/>
<circle cx="82.40" cy="315.60" r="1.85" fill="#1d3557"/>
<line x1="81.10" y1="312.60" x2="96.10" y2="312.60" stroke="#111" stroke-width="1.2"/>
<line x1="111.80" y1="288.00" x2="111.80" y2="294.80" stroke="#111" stroke-width="1.2"/>
<line x1="108.30" y1="288.00" x2="115.30" y2="288.00" stroke="#111" stroke-width="1.2"/>
<line x1="108.30" y1="294.80" x2="115.30" y2="294.80" stroke="#111" stroke-width="1.2"/>
<rect x="110.20" y="274.50" width="3.60" height="3.60" fill="#bd4f60"/>
<rect x="104.10" y="283.00" width="3.60" height="3.60" fill="#bd4f60"/>
<rect x="116.00" y="283.00" width="3.60" height="3.60" fill="#bd4f60"/>
<rect x="110.20" y="285.70" width="3.60" height="3.60" fill="#bd4f60"/>
<rect x="107.20" y="294.20" width="3.60" height="3.60" fill="#bd4f60"/>
<rect x="112.80" y="302.70" width="3.60" height="3.60" fill="#bd4f60"/>
<rect x="107.10" y="305.20" width="3.60" height="3.60" fill="#bd4f60"/>
<rect x="113.40" y="289.70" width="3.60" height="3.60" fill="#bd4f60"/>
<line x1="104.30" y1="291.60" x2="119.30" y2="291.60" stroke="#111" stroke-width="1.2"/>
<line x1="135.10" y1="304.50" x2="135.10" y2="311.40" stroke="#111" stroke-width="1.2"/>
<line x1="131.35" y1="304.50" x2="138.85" y2="304.50" stroke="#111" stroke-width="1.2"/>
<line x1="131.35" y1="311.40" x2="138.85" y2="311.40" stroke="#111" stroke-width="1.2"/>
<rect x="132.65" y="296.85" width="3.90" height="3.90" fill="#a3102f"/>
<rect x="127.85" y="302.35" width="3.90" height="3.90" fill="#a3102f"/>
<rect x="131.45" y="302.35" width="3.90" height="3.90" fill="#a3102f"/>
<rect x="135.05" y="302.35" width="3.90" height="3.90" fill="#a3102f"/>
<rect x="138.65" y="302.35" width="3.90" height="3.90" fill="#a3102f"/>
<rect x="131.35" y="321.95" width="3.90" height="3.90" fill="#a3102f"/>
<rect x="134.25" y="319.55" width="3.90" height="3.90" fill="#a3102f"/>
<line x1="127.60" y1="308.20" x2="142.60" y2="308.20" stroke="#111" stroke-width="1.2"/>
<text x="166.10" y="213.50" font-size="10.4" text-anchor="start" fill="#000" color="#000" font-weight="bold" style="stroke-width:0.55px">C</text>
<line x1="200.50" y1="222.84" x2="200.50" y2="360.10" stroke="#222" stroke-width="1"/>
<line x1="200.50" y1="359.50" x2="301.00" y2="359.50" stroke="#222" stroke-width="1"/>
<line x1="197.20" y1="359.50" x2="200.50" y2="359.50" stroke="#222" stroke-width="1"/>
<text x="194.10" y="362.28" font-size="7.9" text-anchor="end" fill="#2b2b2b" color="#2b2b2b" font-weight="normal" style="stroke-width:0.2px">0</text>
<line x1="197.20" y1="342.50" x2="200.50" y2="342.50" stroke="#222" stroke-width="1"/>
<text x="194.10" y="345.51" font-size="7.9" text-anchor="end" fill="#2b2b2b" color="#2b2b2b" font-weight="normal" style="stroke-width:0.2px">1</text>
<line x1="197.20" y1="326.50" x2="200.50" y2="326.50" stroke="#222" stroke-width="1"/>
<text x="194.10" y="328.74" font-size="7.9" text-anchor="end" fill="#2b2b2b" color="#2b2b2b" font-weight="normal" style="stroke-width:0.2px">2</text>
<line x1="197.20" y1="309.50" x2="200.50" y2="309.50" stroke="#222" stroke-width="1"/>
<text x="194.10" y="311.97" font-size="7.9" text-anchor="end" fill="#2b2b2b" color="#2b2b2b" font-weight="normal" style="stroke-width:0.2px">3</text>
<line x1="197.20" y1="292.50" x2="200.50" y2="292.50" stroke="#222" stroke-width="1"/>
<text x="194.10" y="295.20" font-size="7.9" text-anchor="end" fill="#2b2b2b" color="#2b2b2b" font-weight="normal" style="stroke-width:0.2px">4</text>
<line x1="197.20" y1="275.50" x2="200.50" y2="275.50" stroke="#222" stroke-width="1"/>
<text x="194.10" y="278.43" font-size="7.9" text-anchor="end" fill="#2b2b2b" color="#2b2b2b" font-weight="normal" style="stroke-width:0.2px">5</text>
<line x1="197.20" y1="258.50" x2="200.50" y2="258.50" stroke="#222" stroke-width="1"/>
<text x="194.10" y="261.66" font-size="7.9" text-anchor="end" fill="#2b2b2b" color="#2b2b2b" font-weight="normal" style="stroke-width:0.2px">6</text>
<line x1="197.20" y1="242.50" x2="200.50" y2="242.50" stroke="#222" stroke-width="1"/>
<text x="194.10" y="244.89" font-size="7.9" text-anchor="end" fill="#2b2b2b" color="#2b2b2b" font-weight="normal" style="stroke-width:0.2px">7</text>
<line x1="197.20" y1="225.50" x2="200.50" y2="225.50" stroke="#222" stroke-width="1"/>
<text x="194.10" y="228.12" font-size="7.9" text-anchor="end" fill="#2b2b2b" color="#2b2b2b" font-weight="normal" style="stroke-width:0.2px">8</text>
<line x1="215.50" y1="359.60" x2="215.50" y2="362.20" stroke="#222" stroke-width="1"/>
<line x1="238.50" y1="359.60" x2="238.50" y2="362.20" stroke="#222" stroke-width="1"/>
<line x1="261.50" y1="359.60" x2="261.50" y2="362.20" stroke="#222" stroke-width="1"/>
<line x1="285.50" y1="359.60" x2="285.50" y2="362.20" stroke="#222" stroke-width="1"/>
<text transform="translate(184.6,290.9) rotate(-90)" x="0" y="0" font-size="8.9" text-anchor="middle" fill="#2b2b2b" color="#2b2b2b" textLength="32" lengthAdjust="spacingAndGlyphs" style="stroke-width:0.2px">Tmax (min)</text>
<text x="207.50" y="372.80" font-size="7.4" text-anchor="end" fill="#2b2b2b" color="#2b2b2b" font-weight="normal" textLength="12.0" lengthAdjust="spacingAndGlyphs" style="stroke-width:0.15px">IgG</text>
<text x="207.50" y="383.80" font-size="7.3" text-anchor="end" fill="#2b2b2b" color="#2b2b2b" font-weight="normal" style="stroke-width:0.15px">&#945;-TFPI</text>
<text x="215.40" y="373.30" font-size="8.3" text-anchor="middle" fill="#2b2b2b" color="#2b2b2b" font-weight="normal">+</text>
<text x="238.60" y="373.30" font-size="8.3" text-anchor="middle" fill="#2b2b2b" color="#2b2b2b" font-weight="normal">&#8722;</text>
<text x="261.80" y="373.30" font-size="8.3" text-anchor="middle" fill="#2b2b2b" color="#2b2b2b" font-weight="normal">+</text>
<text x="285.10" y="373.30" font-size="8.3" text-anchor="middle" fill="#2b2b2b" color="#2b2b2b" font-weight="normal">&#8722;</text>
<text x="215.40" y="384.30" font-size="8.3" text-anchor="middle" fill="#2b2b2b" color="#2b2b2b" font-weight="normal">&#8722;</text>
<text x="238.60" y="384.30" font-size="8.3" text-anchor="middle" fill="#2b2b2b" color="#2b2b2b" font-weight="normal">+</text>
<text x="261.80" y="384.30" font-size="8.3" text-anchor="middle" fill="#2b2b2b" color="#2b2b2b" font-weight="normal">&#8722;</text>
<text x="285.10" y="384.30" font-size="8.3" text-anchor="middle" fill="#2b2b2b" color="#2b2b2b" font-weight="normal">+</text>
<polyline points="215.40,390 215.40,395 238.60,395 238.60,390" fill="none" stroke="#444" stroke-width="0.9"/>
<polyline points="261.80,390 261.80,395 285.10,395 285.10,390" fill="none" stroke="#444" stroke-width="0.9"/>
<text x="227.50" y="404.20" font-size="7.3" text-anchor="middle" fill="#2b2b2b" color="#2b2b2b" font-weight="normal" style="stroke-width:0.15px">Control</text>
<text x="273.75" y="404.20" font-size="7.3" text-anchor="middle" fill="#2b2b2b" color="#2b2b2b" font-weight="normal" textLength="35.5" lengthAdjust="spacingAndGlyphs" style="stroke-width:0.15px">COVID-19</text>
<polyline points="214.80,218.40 214.80,212.80 239.20,212.80 239.20,218.40" fill="none" stroke="#3a3a3a" stroke-width="1.1"/>
<text x="227.00" y="211.90" font-size="7.4" text-anchor="middle" fill="#222" color="#222" font-weight="normal">*</text>
<polyline points="261.20,218.40 261.20,212.80 285.70,212.80 285.70,218.40" fill="none" stroke="#3a3a3a" stroke-width="1.1"/>
<text x="273.45" y="211.90" font-size="7.4" text-anchor="middle" fill="#222" color="#222" font-weight="normal">****</text>
<line x1="215.40" y1="267.00" x2="215.40" y2="272.20" stroke="#111" stroke-width="1.2"/>
<line x1="212.15" y1="267.00" x2="218.65" y2="267.00" stroke="#111" stroke-width="1.2"/>
<line x1="212.15" y1="272.20" x2="218.65" y2="272.20" stroke="#111" stroke-width="1.2"/>
<circle cx="211.90" cy="262.00" r="1.75" fill="#fff" stroke="#34567c" stroke-width="1.0"/>
<circle cx="219.40" cy="264.50" r="1.75" fill="#fff" stroke="#34567c" stroke-width="1.0"/>
<circle cx="211.80" cy="267.40" r="1.75" fill="#fff" stroke="#34567c" stroke-width="1.0"/>
<circle cx="215.00" cy="272.90" r="1.75" fill="#fff" stroke="#34567c" stroke-width="1.0"/>
<circle cx="215.20" cy="278.50" r="1.75" fill="#fff" stroke="#34567c" stroke-width="1.0"/>
<line x1="207.90" y1="269.30" x2="222.90" y2="269.30" stroke="#111" stroke-width="1.2"/>
<line x1="238.60" y1="281.00" x2="238.60" y2="285.30" stroke="#111" stroke-width="1.2"/>
<line x1="235.35" y1="281.00" x2="241.85" y2="281.00" stroke="#111" stroke-width="1.2"/>
<line x1="235.35" y1="285.30" x2="241.85" y2="285.30" stroke="#111" stroke-width="1.2"/>
<circle cx="238.80" cy="275.60" r="1.85" fill="#1d3557"/>
<circle cx="233.00" cy="281.20" r="1.85" fill="#1d3557"/>
<circle cx="239.20" cy="281.00" r="1.85" fill="#1d3557"/>
<circle cx="244.60" cy="284.00" r="1.85" fill="#1d3557"/>
<circle cx="238.80" cy="289.40" r="1.85" fill="#1d3557"/>
<line x1="231.35" y1="283.30" x2="245.85" y2="283.30" stroke="#111" stroke-width="1.2"/>
<line x1="261.80" y1="259.00" x2="261.80" y2="266.20" stroke="#111" stroke-width="1.2"/>
<line x1="258.30" y1="259.00" x2="265.30" y2="259.00" stroke="#111" stroke-width="1.2"/>
<line x1="258.30" y1="266.20" x2="265.30" y2="266.20" stroke="#111" stroke-width="1.2"/>
<rect x="260.20" y="245.90" width="3.60" height="3.60" fill="#bd4f60"/>
<rect x="254.30" y="254.40" width="3.60" height="3.60" fill="#bd4f60"/>
<rect x="266.00" y="254.40" width="3.60" height="3.60" fill="#bd4f60"/>
<rect x="257.70" y="257.40" width="3.60" height="3.60" fill="#bd4f60"/>
<rect x="262.00" y="257.40" width="3.60" height="3.60" fill="#bd4f60"/>
<rect x="260.20" y="265.60" width="3.60" height="3.60" fill="#bd4f60"/>
<rect x="260.20" y="271.30" width="3.60" height="3.60" fill="#bd4f60"/>
<rect x="260.20" y="279.60" width="3.60" height="3.60" fill="#bd4f60"/>
<line x1="254.55" y1="262.60" x2="269.05" y2="262.60" stroke="#111" stroke-width="1.2"/>
<line x1="285.10" y1="277.00" x2="285.10" y2="284.10" stroke="#111" stroke-width="1.2"/>
<line x1="281.60" y1="277.00" x2="288.60" y2="277.00" stroke="#111" stroke-width="1.2"/>
<line x1="281.60" y1="284.10" x2="288.60" y2="284.10" stroke="#111" stroke-width="1.2"/>
<rect x="277.55" y="268.35" width="3.90" height="3.90" fill="#a3102f"/>
<rect x="284.85" y="271.05" width="3.90" height="3.90" fill="#a3102f"/>
<rect x="277.15" y="273.85" width="3.90" height="3.90" fill="#a3102f"/>
<rect x="289.05" y="273.85" width="3.90" height="3.90" fill="#a3102f"/>
<rect x="281.75" y="276.55" width="3.90" height="3.90" fill="#a3102f"/>
<rect x="285.45" y="276.55" width="3.90" height="3.90" fill="#a3102f"/>
<rect x="283.05" y="287.75" width="3.90" height="3.90" fill="#a3102f"/>
<rect x="283.05" y="297.65" width="3.90" height="3.90" fill="#a3102f"/>
<line x1="277.60" y1="280.30" x2="292.60" y2="280.30" stroke="#111" stroke-width="1.2"/>
<text x="316.00" y="213.50" font-size="10.4" text-anchor="start" fill="#000" color="#000" font-weight="bold" style="stroke-width:0.55px">D</text>
<line x1="364.50" y1="224.89" x2="364.50" y2="361.70" stroke="#222" stroke-width="1"/>
<line x1="364.50" y1="361.50" x2="465.00" y2="361.50" stroke="#222" stroke-width="1"/>
<line x1="361.20" y1="361.50" x2="364.50" y2="361.50" stroke="#222" stroke-width="1"/>
<text x="358.10" y="363.88" font-size="7.9" text-anchor="end" fill="#2b2b2b" color="#2b2b2b" font-weight="normal" style="stroke-width:0.2px">0</text>
<line x1="361.20" y1="316.50" x2="364.50" y2="316.50" stroke="#222" stroke-width="1"/>
<text x="358.10" y="319.31" font-size="7.9" text-anchor="end" fill="#2b2b2b" color="#2b2b2b" font-weight="normal" style="stroke-width:0.2px">1000</text>
<line x1="361.20" y1="272.50" x2="364.50" y2="272.50" stroke="#222" stroke-width="1"/>
<text x="358.10" y="274.74" font-size="7.9" text-anchor="end" fill="#2b2b2b" color="#2b2b2b" font-weight="normal" style="stroke-width:0.2px">2000</text>
<line x1="361.20" y1="227.50" x2="364.50" y2="227.50" stroke="#222" stroke-width="1"/>
<text x="358.10" y="230.17" font-size="7.9" text-anchor="end" fill="#2b2b2b" color="#2b2b2b" font-weight="normal" style="stroke-width:0.2px">3000</text>
<line x1="379.50" y1="361.20" x2="379.50" y2="363.80" stroke="#222" stroke-width="1"/>
<line x1="402.50" y1="361.20" x2="402.50" y2="363.80" stroke="#222" stroke-width="1"/>
<line x1="425.50" y1="361.20" x2="425.50" y2="363.80" stroke="#222" stroke-width="1"/>
<line x1="449.50" y1="361.20" x2="449.50" y2="363.80" stroke="#222" stroke-width="1"/>
<text transform="translate(335.3,312.6) rotate(-90)" x="0" y="0" font-size="9.5" fill="#2b2b2b" color="#2b2b2b" textLength="10.6" lengthAdjust="spacingAndGlyphs">ETP</text><text transform="translate(335.3,299.4) rotate(-90)" x="0" y="0" font-size="7.6" fill="#2b2b2b" color="#2b2b2b" textLength="24.7" lengthAdjust="spacingAndGlyphs">(nm.min)</text>
<text x="371.50" y="372.80" font-size="7.4" text-anchor="end" fill="#2b2b2b" color="#2b2b2b" font-weight="normal" textLength="12.0" lengthAdjust="spacingAndGlyphs" style="stroke-width:0.15px">IgG</text>
<text x="371.50" y="383.80" font-size="7.3" text-anchor="end" fill="#2b2b2b" color="#2b2b2b" font-weight="normal" style="stroke-width:0.15px">&#945;-TFPI</text>
<text x="379.40" y="373.30" font-size="8.3" text-anchor="middle" fill="#2b2b2b" color="#2b2b2b" font-weight="normal">+</text>
<text x="402.60" y="373.30" font-size="8.3" text-anchor="middle" fill="#2b2b2b" color="#2b2b2b" font-weight="normal">&#8722;</text>
<text x="425.80" y="373.30" font-size="8.3" text-anchor="middle" fill="#2b2b2b" color="#2b2b2b" font-weight="normal">+</text>
<text x="449.10" y="373.30" font-size="8.3" text-anchor="middle" fill="#2b2b2b" color="#2b2b2b" font-weight="normal">&#8722;</text>
<text x="379.40" y="384.30" font-size="8.3" text-anchor="middle" fill="#2b2b2b" color="#2b2b2b" font-weight="normal">&#8722;</text>
<text x="402.60" y="384.30" font-size="8.3" text-anchor="middle" fill="#2b2b2b" color="#2b2b2b" font-weight="normal">+</text>
<text x="425.80" y="384.30" font-size="8.3" text-anchor="middle" fill="#2b2b2b" color="#2b2b2b" font-weight="normal">&#8722;</text>
<text x="449.10" y="384.30" font-size="8.3" text-anchor="middle" fill="#2b2b2b" color="#2b2b2b" font-weight="normal">+</text>
<polyline points="379.40,390 379.40,395 402.60,395 402.60,390" fill="none" stroke="#444" stroke-width="0.9"/>
<polyline points="425.80,390 425.80,395 449.10,395 449.10,390" fill="none" stroke="#444" stroke-width="0.9"/>
<text x="391.50" y="404.20" font-size="7.3" text-anchor="middle" fill="#2b2b2b" color="#2b2b2b" font-weight="normal" style="stroke-width:0.15px">Control</text>
<text x="437.75" y="404.20" font-size="7.3" text-anchor="middle" fill="#2b2b2b" color="#2b2b2b" font-weight="normal" textLength="35.5" lengthAdjust="spacingAndGlyphs" style="stroke-width:0.15px">COVID-19</text>
<polyline points="378.80,220.50 378.80,214.90 403.20,214.90 403.20,220.50" fill="none" stroke="#3a3a3a" stroke-width="1.1"/>
<text x="391.00" y="214.00" font-size="7.4" text-anchor="middle" fill="#222" color="#222" font-weight="normal">*</text>
<polyline points="425.20,220.50 425.20,214.90 449.70,214.90 449.70,220.50" fill="none" stroke="#3a3a3a" stroke-width="1.1"/>
<text x="437.45" y="214.00" font-size="7.4" text-anchor="middle" fill="#222" color="#222" font-weight="normal">*</text>
<line x1="379.40" y1="303.30" x2="379.40" y2="309.50" stroke="#111" stroke-width="1.2"/>
<line x1="375.65" y1="303.30" x2="383.15" y2="303.30" stroke="#111" stroke-width="1.2"/>
<line x1="375.65" y1="309.50" x2="383.15" y2="309.50" stroke="#111" stroke-width="1.2"/>
<circle cx="379.90" cy="296.90" r="1.75" fill="#fff" stroke="#34567c" stroke-width="1.0"/>
<circle cx="373.80" cy="306.80" r="1.75" fill="#fff" stroke="#34567c" stroke-width="1.0"/>
<circle cx="385.70" cy="306.80" r="1.75" fill="#fff" stroke="#34567c" stroke-width="1.0"/>
<circle cx="379.80" cy="306.80" r="1.75" fill="#fff" stroke="#34567c" stroke-width="1.0"/>
<circle cx="379.90" cy="311.80" r="1.75" fill="#fff" stroke="#34567c" stroke-width="1.0"/>
<line x1="371.90" y1="307.20" x2="386.90" y2="307.20" stroke="#111" stroke-width="1.2"/>
<line x1="402.60" y1="308.20" x2="402.60" y2="313.60" stroke="#111" stroke-width="1.2"/>
<line x1="399.35" y1="308.20" x2="405.85" y2="308.20" stroke="#111" stroke-width="1.2"/>
<line x1="399.35" y1="313.60" x2="405.85" y2="313.60" stroke="#111" stroke-width="1.2"/>
<circle cx="402.80" cy="300.90" r="1.85" fill="#1d3557"/>
<circle cx="402.80" cy="308.20" r="1.85" fill="#1d3557"/>
<circle cx="399.10" cy="316.90" r="1.85" fill="#1d3557"/>
<circle cx="406.40" cy="316.90" r="1.85" fill="#1d3557"/>
<circle cx="402.80" cy="312.00" r="1.85" fill="#1d3557"/>
<line x1="395.10" y1="311.50" x2="410.10" y2="311.50" stroke="#111" stroke-width="1.2"/>
<line x1="425.80" y1="270.30" x2="425.80" y2="286.40" stroke="#111" stroke-width="1.2"/>
<line x1="422.30" y1="270.30" x2="429.30" y2="270.30" stroke="#111" stroke-width="1.2"/>
<line x1="422.30" y1="286.40" x2="429.30" y2="286.40" stroke="#111" stroke-width="1.2"/>
<rect x="423.90" y="235.20" width="3.60" height="3.60" fill="#bd4f60"/>
<rect x="418.50" y="265.50" width="3.60" height="3.60" fill="#bd4f60"/>
<rect x="430.00" y="265.50" width="3.60" height="3.60" fill="#bd4f60"/>
<rect x="423.90" y="268.50" width="3.60" height="3.60" fill="#bd4f60"/>
<rect x="423.90" y="286.70" width="3.60" height="3.60" fill="#bd4f60"/>
<rect x="421.20" y="290.60" width="3.60" height="3.60" fill="#bd4f60"/>
<rect x="427.00" y="291.20" width="3.60" height="3.60" fill="#bd4f60"/>
<rect x="423.90" y="310.20" width="3.60" height="3.60" fill="#bd4f60"/>
<line x1="418.45" y1="278.40" x2="433.15" y2="278.40" stroke="#111" stroke-width="1.2"/>
<line x1="449.10" y1="282.80" x2="449.10" y2="298.50" stroke="#111" stroke-width="1.2"/>
<line x1="445.60" y1="282.80" x2="452.60" y2="282.80" stroke="#111" stroke-width="1.2"/>
<line x1="445.60" y1="298.50" x2="452.60" y2="298.50" stroke="#111" stroke-width="1.2"/>
<rect x="446.75" y="261.55" width="3.90" height="3.90" fill="#a3102f"/>
<rect x="446.75" y="264.85" width="3.90" height="3.90" fill="#a3102f"/>
<rect x="446.75" y="268.05" width="3.90" height="3.90" fill="#a3102f"/>
<rect x="446.75" y="282.25" width="3.90" height="3.90" fill="#a3102f"/>
<rect x="446.75" y="294.35" width="3.90" height="3.90" fill="#a3102f"/>
<rect x="447.05" y="302.75" width="3.90" height="3.90" fill="#a3102f"/>
<rect x="443.45" y="316.65" width="3.90" height="3.90" fill="#a3102f"/>
<rect x="450.65" y="315.85" width="3.90" height="3.90" fill="#a3102f"/>
<line x1="441.65" y1="290.30" x2="456.55" y2="290.30" stroke="#111" stroke-width="1.2"/>
<rect x="0.5" y="0.5" width="519" height="412" fill="none" stroke="#5a5a5a" stroke-width="1"/>
</svg>
</body></html>
